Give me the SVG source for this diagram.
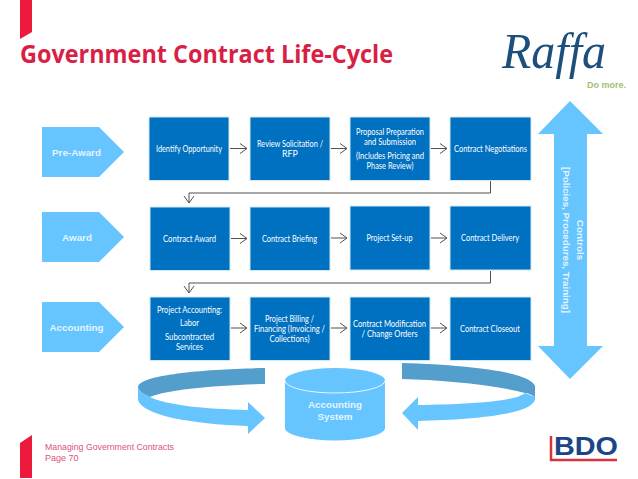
<svg xmlns="http://www.w3.org/2000/svg" width="638" height="479" viewBox="0 0 638 479">
<defs>
<style>
.box{fill:#0070c0;stroke:#cfeaf4;stroke-width:1}
.bt{font-family:"Lato","Noto Sans",sans-serif;font-size:8.8px;fill:#fff;text-anchor:middle}
.lt{font-family:"Liberation Sans",Arial,sans-serif;font-size:9.8px;font-weight:bold;fill:#e4f4ff;text-anchor:middle}
.lb{fill:#66c4ff}
.dk{fill:#549ecb}
.c{fill:none;stroke:#55504c;stroke-width:1;marker-end:url(#a)}
.red{fill:#ec1a3c}
.ft{font-family:"Liberation Sans",sans-serif;font-size:9px;fill:#d9567a}
</style>
<marker id="a" markerUnits="userSpaceOnUse" markerWidth="10" markerHeight="12" refX="8" refY="6" orient="auto"><path d="M1 1L8 6L1 11" fill="none" stroke="#55504c" stroke-width="1"/></marker>
</defs>
<rect width="638" height="479" fill="#fff"/>
<polygon class="red" points="20,0 32,0 32,32 20,39"/>
<polygon class="red" points="32,435 32,478 20,478 20,443"/>
<text x="20" y="63" font-family="'Open Sans','Noto Sans',sans-serif" font-weight="bold" font-size="24.5" fill="#d81f45" textLength="373" lengthAdjust="spacingAndGlyphs">Government Contract Life-Cycle</text>
<g id="logo-raffa">
<text x="502" y="68" font-family="'Liberation Serif',serif" font-style="italic" font-size="50" fill="#1c4f7c" textLength="104" lengthAdjust="spacingAndGlyphs">Raffa</text>
<text x="587" y="88" font-family="'Liberation Sans',sans-serif" font-weight="bold" font-size="9" fill="#a3bf72" textLength="39" lengthAdjust="spacingAndGlyphs">Do more.</text>
</g>
<g id="pre-award"><polygon class="lb" points="42,127 99,127 124,152 99,177 42,177"/><text class="lt" x="76.500" y="156">Pre-Award</text></g>
<g id="award"><polygon class="lb" points="42,212 99,212 124,237 99,262 42,262"/><text class="lt" x="77" y="241">Award</text></g>
<g id="accounting"><polygon class="lb" points="42,302 99,302 124,327 99,352 42,352"/><text class="lt" x="76.500" y="331">Accounting</text></g>

<g id="n-identify"><rect class="box" x="149" y="117" width="80" height="63.500"/><text class="bt" x="189" y="152" textLength="66" lengthAdjust="spacingAndGlyphs">Identify Opportunity</text></g>
<g id="n-review"><rect class="box" x="250" y="117" width="80" height="63.500"/><text class="bt" x="290" y="147" textLength="66" lengthAdjust="spacingAndGlyphs">Review Solicitation /</text><text class="bt" x="290" y="157">RFP</text></g>
<g id="n-proposal"><rect class="box" x="350" y="117" width="80" height="63.500"/><text class="bt" x="390" y="135" textLength="68" lengthAdjust="spacingAndGlyphs">Proposal Preparation</text><text class="bt" x="390" y="145" textLength="52" lengthAdjust="spacingAndGlyphs">and Submission</text><text class="bt" x="390" y="159" textLength="68" lengthAdjust="spacingAndGlyphs">(Includes Pricing and</text><text class="bt" x="390" y="169" textLength="47" lengthAdjust="spacingAndGlyphs">Phase Review)</text></g>
<g id="n-negotiations"><rect class="box" x="450" y="117" width="81" height="63.500"/><text class="bt" x="490.500" y="152" textLength="73" lengthAdjust="spacingAndGlyphs">Contract Negotiations</text></g>

<g id="n-award"><rect class="box" x="150" y="207" width="80" height="63.500"/><text class="bt" x="189.500" y="242" textLength="53" lengthAdjust="spacingAndGlyphs">Contract Award</text></g>
<g id="n-briefing"><rect class="box" x="250" y="207" width="80" height="63.500"/><text class="bt" x="289.500" y="242" textLength="55" lengthAdjust="spacingAndGlyphs">Contract Briefing</text></g>
<g id="n-setup"><rect class="box" x="350" y="206" width="80" height="64"/><text class="bt" x="389.500" y="241" textLength="46" lengthAdjust="spacingAndGlyphs">Project Set-up</text></g>
<g id="n-delivery"><rect class="box" x="450" y="206" width="81" height="64"/><text class="bt" x="490" y="241" textLength="58" lengthAdjust="spacingAndGlyphs">Contract Delivery</text></g>

<g id="n-project-accounting"><rect class="box" x="150" y="297" width="80" height="63.500"/><text class="bt" x="189.500" y="313" textLength="65" lengthAdjust="spacingAndGlyphs">Project Accounting:</text><text class="bt" x="189.500" y="326" textLength="19" lengthAdjust="spacingAndGlyphs">Labor</text><text class="bt" x="189.500" y="340" textLength="49" lengthAdjust="spacingAndGlyphs">Subcontracted</text><text class="bt" x="189.500" y="350" textLength="27" lengthAdjust="spacingAndGlyphs">Services</text></g>
<g id="n-billing"><rect class="box" x="250" y="297" width="80" height="63.500"/><text class="bt" x="289.500" y="321.500" textLength="49" lengthAdjust="spacingAndGlyphs">Project Billing /</text><text class="bt" x="289.500" y="331.500" textLength="71" lengthAdjust="spacingAndGlyphs">Financing (Invoicing /</text><text class="bt" x="289.500" y="341.500" textLength="40" lengthAdjust="spacingAndGlyphs">Collections)</text></g>
<g id="n-modification"><rect class="box" x="350" y="297" width="80" height="63.500"/><text class="bt" x="389.500" y="327" textLength="73" lengthAdjust="spacingAndGlyphs">Contract Modification</text><text class="bt" x="389.500" y="337" textLength="56" lengthAdjust="spacingAndGlyphs">/ Change Orders</text></g>
<g id="n-closeout"><rect class="box" x="450" y="297" width="81" height="63.500"/><text class="bt" x="490" y="332" textLength="60" lengthAdjust="spacingAndGlyphs">Contract Closeout</text></g>

<g id="connectors">
<path class="c" d="M230 148.500H247"/><path class="c" d="M331 148.500H347"/><path class="c" d="M431 148.500H447"/>
<path class="c" d="M490.500 181V193H189V203"/>
<path class="c" d="M231 238.500H247"/><path class="c" d="M331 238H347"/><path class="c" d="M431 238H447"/>
<path class="c" d="M490.500 271V283H189V293"/>
<path class="c" d="M231 328H247"/><path class="c" d="M331 328H347"/><path class="c" d="M431 328H447"/>
</g>

<g id="controls">
<polygon class="lb" points="570,101 603,134 587,134 587,346 603,346 570,379 538,346 554,346 554,134 538,134"/>
<text transform="translate(577,240) rotate(90)" class="lt">Controls</text>
<text transform="translate(563,240) rotate(90)" class="lt" textLength="146" lengthAdjust="spacing">[Policies, Procedures, Training]</text>
</g>

<g id="accounting-system">
<path class="lb" d="M285 380.500A50 12.500 0 0 1 385 380.500V428A50 12.500 0 0 1 285 428Z"/>
<path d="M285 380.500A50 12.500 0 0 0 385 380.500" fill="none" stroke="#e8f6ff" stroke-width="1"/>
<text class="lt" x="335" y="408">Accounting</text>
<text class="lt" x="335" y="420">System</text>
</g>

<g id="cycle-left">
<path class="lb" d="M138 387V400C142 415 190 424 248 426V434L265 418L248 402V410C205 409 165 405 150 397C143 394 139 391 138 387Z"/>
<path class="dk" d="M265 368C210 369 140 374 138 387C139 391 143 394 150 397C165 390 215 385 265 384Z"/>
</g>
<g id="cycle-right">
<path class="lb" d="M535 397V400C530 415 470 420 418 421V430L402 413L418 397V405C465 404 515 402 525 393Z"/>
<path class="dk" d="M402 363C470 365 530 372 535 386V397C530 394 528 393 525 393C490 384 440 380 402 379Z"/>
</g>

<g id="footer"><text class="ft" x="45" y="450" textLength="129" lengthAdjust="spacingAndGlyphs">Managing Government Contracts</text><text class="ft" x="45" y="461">Page 70</text></g>
<g id="logo-bdo">
<path d="M551 436V460H617" fill="none" stroke="#d8323f" stroke-width="2.500"/>
<text x="554" y="455" font-family="'Liberation Sans',sans-serif" font-weight="bold" font-size="26" fill="#1c4587" textLength="64" lengthAdjust="spacingAndGlyphs">BDO</text>
</g>
</svg>
